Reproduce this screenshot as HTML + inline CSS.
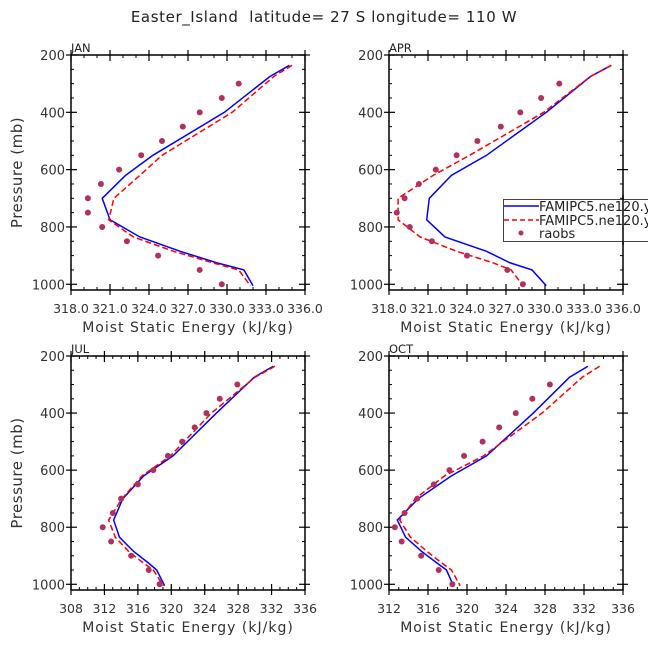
<!DOCTYPE html>
<html><head><meta charset="utf-8"><style>
html,body{margin:0;padding:0;background:#fff;}
svg{display:block;font-family:"DejaVu Sans","Liberation Sans",sans-serif;}
text{white-space:pre;}
</style></head><body>
<svg id="fig" width="648" height="649" viewBox="0 0 648 649">
<text x="324" y="22" text-anchor="middle" font-size="15" letter-spacing="0.6" fill="#222">Easter_Island  latitude= 27 S longitude= 110 W</text>
</svg>
<script>
const levels = [236,275,400,550,620,700,775,835,885,925,950,1005];
const obsLevels = [300,350,400,450,500,550,600,650,700,750,800,850,900,950,1000];
const janBlue = [334.8,333.3,329.8,324.3,322.2,320.4,321.0,323.3,326.4,329.2,331.3,332.0];
const janRed  = [335.0,333.6,330.4,325.0,323.3,321.3,320.9,322.8,325.9,328.9,330.9,331.8];
const janObs  = [330.9,329.6,327.9,326.6,325.0,323.4,321.7,320.3,319.3,319.3,320.4,322.3,324.7,327.9,329.6];
const aprBlue = [335.1,333.5,330.1,325.5,322.8,321.1,320.9,322.3,325.5,327.3,329.0,330.1];
const aprRed  = [335.1,333.5,329.9,324.2,321.4,318.7,318.7,320.4,323.2,326.0,327.4,328.3];
const aprObs  = [331.1,329.7,328.1,326.6,324.8,323.2,321.6,320.3,319.2,318.6,319.6,321.3,324.0,327.1,328.3];
const julBlue = [332.2,329.9,325.4,320.2,316.7,314.2,313.1,313.8,315.5,317.25,318.25,319.2];
const julRed  = [332.4,330.0,324.8,319.9,316.5,314.1,312.5,313.3,314.9,316.65,317.85,319.05];
const julObs  = [327.9,325.8,324.2,322.8,321.3,319.6,317.85,316.0,314.0,313.0,311.8,312.8,315.2,317.3,318.6];
const octBlue = [332.4,330.5,326.8,322.0,318.4,315.0,312.85,313.7,315.35,316.9,317.9,318.6];
const octRed  = [333.6,331.8,327.7,321.7,317.7,314.7,313.1,314.2,315.9,317.4,318.4,319.3];
const octObs  = [328.5,326.7,325.0,323.3,321.6,319.7,318.2,316.6,314.9,313.6,312.6,313.3,315.3,317.1,318.5];
const topTicks = [318,321,324,327,330,333,336];
const julTicks = [308,312,316,320,324,328,332,336];
const octTicks = [312,316,320,324,328,332,336];
const yTicks = [200,400,600,800,1000];

const NS="http://www.w3.org/2000/svg";
const svg=document.getElementById('fig');
function mk(tag,attrs,parent){const e=document.createElementNS(NS,tag);for(const k in attrs)e.setAttribute(k,attrs[k]);(parent||svg).appendChild(e);return e;}

function panel(opt){
  const g=mk('g',{});
  
  
  const L=opt.x0,R=opt.x0+234,T=opt.y0,B=opt.y0+opt.h;
  const pmin=200,pmax=1020;
  const xs=v=>L+(v-opt.xmin)/(opt.xmax-opt.xmin)*(R-L);
  const ys=p=>T+(p-pmin)/(pmax-pmin)*(B-T);
  for(let v=opt.xmin;v<=opt.xmax+1e-6;v+=opt.minor){
    const x=xs(v);
    const t1=mk('line',{x1:x,y1:B,x2:x,y2:B-3,stroke:'#000','stroke-width':1},g);
    
    
    mk('line',{x1:x,y1:T,x2:x,y2:T+3,stroke:'#000','stroke-width':1},g);
  }
  opt.ticks.forEach(v=>{
    const x=xs(v);
    mk('line',{x1:x,y1:B+5,x2:x,y2:B-6,stroke:'#000','stroke-width':1.2},g);
    mk('line',{x1:x,y1:T-5,x2:x,y2:T+6,stroke:'#000','stroke-width':1.2},g);
    const t=mk('text',{x:x,y:B+23,'text-anchor':'middle','font-size':12.5,fill:'#333'},g);
    
    
    t.textContent=opt.fmt(v);
  });
  for(let p=250;p<=1000;p+=100){
    const y=ys(p);
    mk('line',{x1:L,y1:y,x2:L+3,y2:y,stroke:'#000'},g);
    mk('line',{x1:R,y1:y,x2:R-3,y2:y,stroke:'#000'},g);
  }
  for(let p=300;p<=900;p+=200){
    const y=ys(p);
    mk('line',{x1:L,y1:y,x2:L+3,y2:y,stroke:'#000'},g);
    mk('line',{x1:R,y1:y,x2:R-3,y2:y,stroke:'#000'},g);
  }
  yTicks.forEach(p=>{
    const y=ys(p);
    mk('line',{x1:L-5,y1:y,x2:L+6,y2:y,stroke:'#000','stroke-width':1.2},g);
    mk('line',{x1:R+5,y1:y,x2:R-6,y2:y,stroke:'#000','stroke-width':1.2},g);
    const t=mk('text',{x:L-6,y:y+5,'text-anchor':'end','font-size':13,fill:'#333'},g);
    
    
    t.textContent=p;
  });
  const fr=mk('rect',{x:L,y:T,width:R-L,height:B-T,fill:'none',stroke:'#000','stroke-width':1.5},g);
  
  
  const lab=mk('text',{x:L,y:T-3,'font-size':11.5,fill:'#222'},g);
  
  
  lab.textContent=opt.label;
  const xt=mk('text',{x:(L+R)/2,y:B+42,'text-anchor':'middle','font-size':14,'letter-spacing':1,fill:'#333'},g);
  
  
  xt.textContent='Moist Static Energy (kJ/kg)';
  if(opt.ylabel){
    const cy=(T+B)/2;
    const yt=mk('text',{x:22,y:cy,'text-anchor':'middle','font-size':15,'letter-spacing':0.5,fill:'#333',transform:'rotate(-90 22 '+cy+')'},g);
    
    
    yt.textContent='Pressure (mb)';
  }
  const bp=mk('polyline',{points:levels.map((p,i)=>xs(opt.blue[i])+','+ys(p)).join(' '),fill:'none',stroke:'#0000ff','stroke-width':1.5},g);
  
  
  const rp=mk('polyline',{points:levels.map((p,i)=>xs(opt.red[i])+','+ys(p)).join(' '),fill:'none',stroke:'#ff0000','stroke-width':1.5,'stroke-dasharray':'6,3'},g);
  
  
  obsLevels.forEach((p,i)=>{
    const c=mk('circle',{cx:xs(opt.obs[i]),cy:ys(p),r:3,fill:'#b03060'},g);
    
    
  });
}
const f1=v=>v.toFixed(1), f0=v=>String(v);
panel({name:'jan',label:'JAN',x0:71,y0:55,h:235,xmin:318,xmax:336,minor:1,ticks:topTicks,fmt:f1,blue:janBlue,red:janRed,obs:janObs,ylabel:true});
panel({name:'apr',label:'APR',x0:389,y0:55,h:235,xmin:318,xmax:336,minor:1,ticks:topTicks,fmt:f1,blue:aprBlue,red:aprRed,obs:aprObs,ylabel:false});
panel({name:'jul',label:'JUL',x0:71,y0:356,h:234,xmin:308,xmax:336,minor:1,ticks:julTicks,fmt:f0,blue:julBlue,red:julRed,obs:julObs,ylabel:true});
panel({name:'oct',label:'OCT',x0:389,y0:356,h:234,xmin:312,xmax:336,minor:1,ticks:octTicks,fmt:f0,blue:octBlue,red:octRed,obs:octObs,ylabel:false});

const lg=mk('g',{});


mk('rect',{x:503.5,y:199.5,width:150,height:42,fill:'#fff',stroke:'#444','stroke-width':1},lg);
const e1=mk('line',{x1:504,y1:206,x2:539,y2:206,stroke:'#0000ff','stroke-width':1.5},lg);


const e2=mk('line',{x1:504,y1:220,x2:539,y2:220,stroke:'#ff0000','stroke-width':1.5,'stroke-dasharray':'5,3'},lg);


const e3=mk('circle',{cx:521,cy:233,r:2.5,fill:'#b03060'},lg);


[['FAMIPC5.ne120.y',539,211],['FAMIPC5.ne120.y',539,225],['raobs',539,238]].forEach(a=>{
  const t=mk('text',{x:a[1],y:a[2],'font-size':13,fill:'#222'},lg);
  
  
  t.textContent=a[0];
});
mk('line',{x1:623,y1:195,x2:623,y2:245,stroke:'#000','stroke-width':1.5},lg);
</script>
</body></html>
